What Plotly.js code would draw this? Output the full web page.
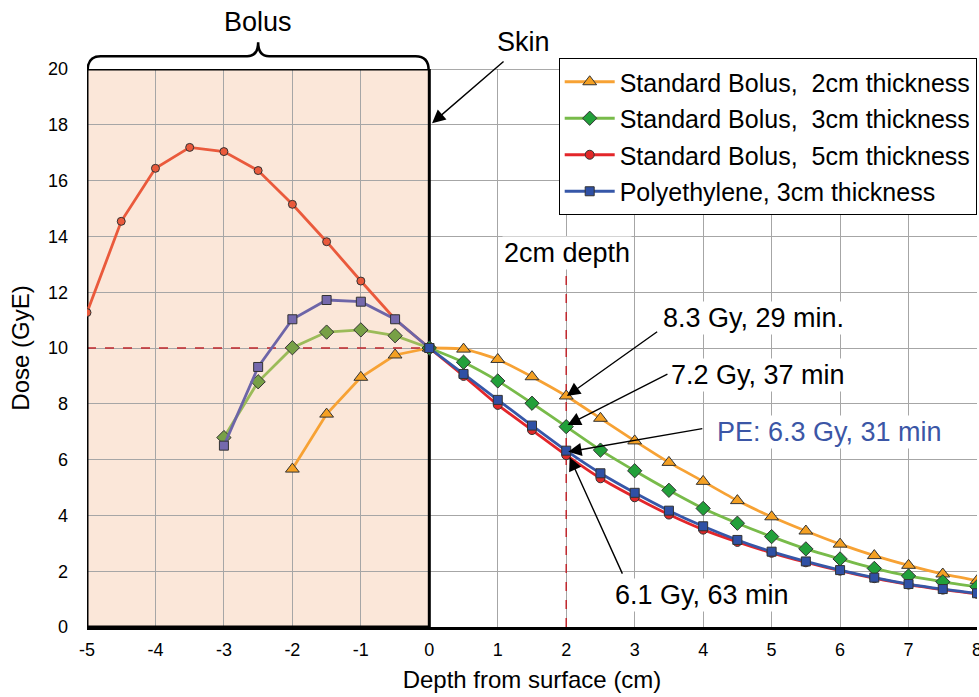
<!DOCTYPE html>
<html><head><meta charset="utf-8">
<script src="https://cdn.plot.ly/plotly-3.0.1.min.js"></script>
<style>html,body{margin:0;padding:0;background:#fff}</style>
</head><body><div id="chart" style="width:979px;height:697px"></div>
<script>
// ---- data ----
const seriesNames = [
  'Standard Bolus,\u00a0 2cm thickness',
  'Standard Bolus,\u00a0 3cm thickness',
  'Standard Bolus,\u00a0 5cm thickness',
  'Polyethylene, 3cm thickness'
];
const depthTissue = [0,0.5,1,1.5,2,2.5,3,3.5,4,4.5,5,5.5,6,6.5,7,7.5,8];
const dose2cmTissue = [10,9.96,9.59,8.97,8.28,7.48,6.67,5.90,5.22,4.53,3.95,3.44,2.97,2.56,2.21,1.90,1.66];
const dose3cmTissue = [10,9.49,8.82,8.02,7.18,6.34,5.60,4.90,4.25,3.72,3.24,2.80,2.44,2.10,1.83,1.62,1.44];
const dose5cmTissue = [10,9.00,7.96,7.06,6.16,5.33,4.65,4.03,3.49,3.05,2.66,2.32,2.02,1.75,1.52,1.34,1.19];
const dosePETissue  = [10,9.07,8.14,7.22,6.32,5.51,4.81,4.17,3.61,3.12,2.70,2.35,2.04,1.77,1.54,1.36,1.21];

const depthBolus2 = [-2,-1.5,-1,-0.5,0];
const dose2cmBolus = [5.66,7.63,8.95,9.75,10];
const depthBolus3 = [-3,-2.5,-2,-1.5,-1,-0.5,0];
const dose3cmBolus = [6.79,8.79,10.01,10.57,10.65,10.44,10];
const dosePEBolus  = [6.50,9.32,11.03,11.72,11.66,11.03,10];
const depthBolus5 = [-5,-4.5,-4,-3.5,-3,-2.5,-2,-1.5,-1,-0.5,0];
const dose5cmBolus = [11.27,14.54,16.44,17.19,17.04,16.36,15.15,13.81,12.40,11.03,10];

const xTicks = [-5,-4,-3,-2,-1,0,1,2,3,4,5,6,7,8];
const xTickLabels = ['-5','-4','-3','-2','-1','0','1','2','3','4','5','6','7','8'];
const yTicks = [0,2,4,6,8,10,12,14,16,18,20];

// ---- styles ----
const outline = {color:'#333', width:1};
function tr(x,y,lc,mc,sym,size,name,show,shape){
  return {x:x,y:y,type:'scatter',mode:'lines+markers',name:name||'',showlegend:!!show,
    legendgroup:name||undefined,
    line:{color:lc,width:2.8,shape:shape||'linear',smoothing:0.6},
    marker:{color:mc,symbol:sym,size:size,line:outline},hoverinfo:'skip'};
}
const traces = [
  tr(depthBolus5, dose5cmBolus, '#ea5a3c','#ea5a3c','circle',8),
  tr(depthBolus2, dose2cmBolus, '#f7a234','#f4a023','triangle-up',12),
  tr(depthBolus3, dose3cmBolus, '#9bbb59','#77a046','diamond',11),
  tr(depthBolus3, dosePEBolus, '#6d65a8','#7569ad','square',9),
  tr(depthTissue, dose2cmTissue, '#f7a234','#f4a023','triangle-up',12, seriesNames[0], true,'spline'),
  tr(depthTissue, dose3cmTissue, '#78bb4a','#22a03a','diamond',11, seriesNames[1], true,'spline'),
  tr(depthTissue, dose5cmTissue, '#e3262a','#e02828','circle',9, seriesNames[2], true,'spline'),
  tr(depthTissue, dosePETissue, '#3657a8','#2f50a5','square',9, seriesNames[3], true,'spline')
];

const F = 'Liberation Sans, Arial, sans-serif';
function arrow(x,y,ax,ay,pix){
  const a = {x:x,y:y,xref:'x',yref:'y',ax:ax,ay:ay,text:'',font:{size:1},showarrow:true,
    arrowhead:2,arrowsize:1.9,arrowwidth:1.4,arrowcolor:'#000',standoff:0,startstandoff:0};
  if(!pix){a.axref='x';a.ayref='y';}
  return a;
}
function label(x,y,t,color,bg){
  return {x:x,y:y,xref:'x',yref:'y',text:t,showarrow:false,font:{family:F,size:27,color:color||'#000'},
    bgcolor:bg?'#fff':'rgba(0,0,0,0)',borderpad:1};
}
const annotations = [
  {x:-2.5,y:1.084,xref:'x',yref:'paper',xanchor:'center',yanchor:'middle',text:'Bolus',showarrow:false,font:{family:F,size:27,color:'#000'}},
  {x:1.37,y:1.048,xref:'x',yref:'paper',xanchor:'center',yanchor:'middle',text:'Skin',showarrow:false,font:{family:F,size:27,color:'#000'}},
  arrow(0.04,18.06,73,-63,true),
  label(2.01,13.4,'2cm depth','#000',true),
  label(4.74,11.08,'8.3 Gy, 29 min.','#000',true),
  label(4.80,9.03,'7.2 Gy, 37 min','#000',true),
  label(5.84,6.99,'PE: 6.3 Gy, 31 min','#3b56a6',true),
  label(3.99,1.15,'6.1 Gy, 63 min','#000',true),
  arrow(2.01,8.28,3.35,10.62),
  arrow(2.02,7.24,3.50,9.09),
  arrow(2.03,6.28,4.01,7.12),
  arrow(2.05,6.08,2.83,1.86)
];

const shapes = [
  {type:'rect',xref:'x',yref:'y',x0:-5,x1:0,y0:0,y1:20,fillcolor:'#fbe7d9',line:{width:0},layer:'below'},
  {type:'line',xref:'x',yref:'y',x0:0,x1:8,y0:20,y1:20,line:{color:'#555',width:1},layer:'between'},
  {type:'line',xref:'x',yref:'y',x0:-5,x1:0,y0:10,y1:10,line:{color:'#c0272d',width:1.5,dash:'dash'},layer:'between'},
  {type:'line',xref:'x',yref:'y',x0:2,x1:2,y0:0,y1:12.7,line:{color:'#c0272d',width:1.5,dash:'dash'},layer:'between'},
  {type:'rect',xref:'x',yref:'y',x0:-5,x1:0,y0:0,y1:20,line:{color:'#000',width:3},layer:'between'},
  {type:'path',xref:'x',yref:'paper',layer:'above',line:{color:'#000',width:2.5},
   path:'M -4.99,0.998 Q -4.99,1.023 -4.8,1.023 L -2.66,1.023 Q -2.5,1.023 -2.5,1.048 Q -2.5,1.023 -2.34,1.023 L -0.2,1.023 Q -0.01,1.023 -0.01,0.998'}
];

const layout = {
  width:979,height:697,
  margin:{l:87,r:2,t:69,b:70},
  paper_bgcolor:'#fff',plot_bgcolor:'#fff',
  font:{family:F,color:'#000'},
  xaxis:{range:[-5,8],tickvals:xTicks,ticktext:xTickLabels,showgrid:true,gridcolor:'#a6a6a6',gridwidth:1,zeroline:false,
    showline:true,linecolor:'#000',linewidth:3,ticks:'',tickfont:{size:18},ticklabelstandoff:4,ticklabeloverflow:'allow',
    title:{text:'Depth from surface (cm)',font:{size:24},standoff:13}},
  yaxis:{range:[0,20],tickvals:yTicks,showgrid:true,gridcolor:'#a6a6a6',gridwidth:1,zeroline:false,
    showline:false,ticks:'',tickfont:{size:18},ticklabelstandoff:18,
    title:{text:'Dose (GyE)',font:{size:24},standoff:11}},
  legend:{x:0.530,y:1.0197,xanchor:'left',yanchor:'top',bgcolor:'#fff',bordercolor:'#000',borderwidth:1,
    font:{size:25,family:F},traceorder:'grouped',tracegroupgap:1,itemwidth:50},
  shapes:shapes,
  annotations:annotations
};
Plotly.newPlot('chart',traces,layout,{staticPlot:true});
</script></body></html>
